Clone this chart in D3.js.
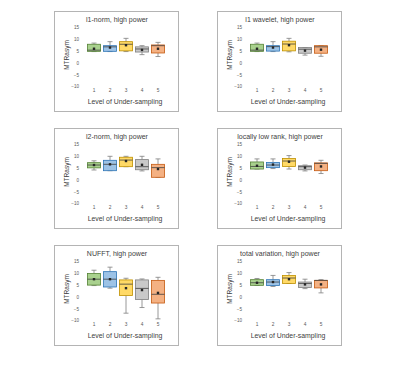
<!DOCTYPE html>
<html>
<head>
<meta charset="utf-8">
<script src="https://cdn.jsdelivr.net/npm/d3@7"></script>
<style>
  body { margin: 0; background: #fff; }
  svg text { font-family: "Liberation Sans", Arial, sans-serif; }
</style>
</head>
<body>
<div id="chart"></div>
<script>
// categories and tick labels
var levels = ["1", "2", "3", "4", "5"];
var yTicks = [15, 10, 5, 0, -5, -10];
var titles = ["l1-norm, high power", "l1 wavelet, high power",
              "l2-norm, high power", "locally low rank, high power",
              "NUFFT, high power", "total variation, high power"];

// each row: [min, q1, median, q3, max, mean] per level of under-sampling
var l1norm = [
  [4.8, 4.9, 5.4, 7.9, 8.4, 6.0],
  [4.8, 4.9, 6.8, 7.3, 9.0, 6.5],
  [4.8, 5.1, 7.9, 9.0, 10.4, 7.5],
  [3.5, 4.6, 5.9, 6.8, 7.3, 5.5],
  [2.7, 4.2, 7.3, 7.6, 8.7, 6.0]
];
var l1wavelet = [
  [4.8, 4.9, 5.4, 7.9, 8.4, 6.0],
  [4.8, 5.0, 6.9, 7.3, 9.0, 6.5],
  [4.7, 5.1, 8.0, 9.2, 10.4, 7.5],
  [3.3, 4.1, 5.8, 6.5, 6.5, 5.2],
  [2.8, 4.1, 6.8, 7.3, 7.3, 5.6]
];
var l2norm = [
  [4.2, 5.1, 6.3, 7.3, 8.1, 6.3],
  [3.9, 3.9, 6.6, 8.3, 10.0, 6.6],
  [5.6, 5.6, 8.4, 9.6, 10.0, 8.0],
  [3.8, 4.3, 5.6, 8.6, 10.0, 6.4],
  [1.1, 1.1, 5.2, 6.6, 8.9, 4.6]
];
var lowRank = [
  [4.6, 4.6, 5.7, 7.6, 8.9, 6.0],
  [4.8, 5.2, 6.3, 7.4, 8.9, 6.5],
  [4.6, 5.7, 8.0, 9.1, 10.3, 7.7],
  [3.8, 4.3, 5.6, 6.0, 6.3, 5.2],
  [2.7, 3.9, 7.0, 7.2, 8.3, 5.7]
];
var nufft = [
  [4.8, 5.0, 7.5, 9.9, 11.3, 7.5],
  [3.7, 4.2, 7.5, 10.7, 12.6, 7.5],
  [-6.9, 0.6, 5.4, 7.2, 7.9, 3.7],
  [-4.5, -1.1, 3.6, 7.2, 7.6, 2.9],
  [-9.3, -2.6, 1.1, 7.0, 8.3, 1.7]
];
var totalVariation = [
  [4.9, 4.9, 6.0, 7.3, 7.8, 6.0],
  [4.4, 4.8, 6.3, 7.3, 9.1, 6.3],
  [5.7, 5.7, 8.0, 9.1, 10.3, 7.5],
  [3.5, 4.0, 5.7, 6.3, 7.5, 5.3],
  [1.7, 3.8, 7.0, 7.0, 7.3, 5.3]
];
var panelData = [l1norm, l1wavelet, l2norm, lowRank, nufft, totalVariation];

var fills   = ["#a9d18e", "#9dc3e6", "#ffd966", "#c9c9c9", "#f4b183"];
var strokes = ["#548235", "#2e75b6", "#bf9000", "#7f7f7f", "#c55a11"];

var w = 400, h = 369;
var panelW = 124, panelH = 100;
var colX = [54, 217];
var rowY = [11, 128, 245];

var svg = d3.select("#chart").append("svg")
  .attr("width", w)
  .attr("height", h);

var xScale = d3.scaleBand()
  .domain(levels)
  .range([32, 112])
  .paddingInner(0.18)
  .paddingOuter(0.09);

var yScale = d3.scaleLinear()
  .domain([-10, 15])
  .range([75.5, 16.5]);

panelData.forEach(function(data, i) {
  var px = colX[i % 2], py = rowY[Math.floor(i / 2)];
  var g = svg.append("g").attr("transform", "translate(" + px + "," + py + ")");

  // frame
  g.append("rect")
    .attr("x", 0.5).attr("y", 0.5)
    .attr("width", panelW).attr("height", panelH)
    .attr("fill", "#fff")
    .attr("stroke", "#b4b4b4")
    .attr("stroke-width", 1);

  // title
  g.append("text")
    .attr("x", panelW / 2 + 1).attr("y", 11)
    .attr("text-anchor", "middle")
    .attr("font-size", "7px")
    .attr("fill", "#404040")
    .text(titles[i]);

  // y axis (labels only)
  var yAxis = d3.axisLeft(yScale).tickValues(yTicks).tickSize(0).tickPadding(0);
  var ya = g.append("g").attr("transform", "translate(25,0)").call(yAxis);
  ya.select(".domain").remove();
  ya.selectAll("text").attr("font-size", "4.6px").attr("fill", "#595959")
    .attr("font-family", "Liberation Sans, Arial, sans-serif");

  // x axis (labels only)
  var xAxis = d3.axisBottom(xScale).tickSize(0).tickPadding(0);
  var xa = g.append("g").attr("transform", "translate(0,78)").call(xAxis);
  xa.select(".domain").remove();
  xa.selectAll("text").attr("font-size", "4.8px").attr("fill", "#595959")
    .attr("font-family", "Liberation Sans, Arial, sans-serif");

  // axis titles
  g.append("text")
    .attr("x", 71).attr("y", 93)
    .attr("text-anchor", "middle")
    .attr("font-size", "6.9px")
    .attr("fill", "#404040")
    .text("Level of Under-sampling");

  g.append("text")
    .attr("transform", "translate(14.5,44) rotate(-90)")
    .attr("text-anchor", "middle")
    .attr("font-size", "6.5px")
    .attr("fill", "#404040")
    .text("MTRasym");

  // boxes
  var bw = xScale.bandwidth();
  var box = g.selectAll(".box")
    .data(data)
    .enter().append("g")
    .attr("class", "box")
    .attr("transform", function(d, j) { return "translate(" + xScale(levels[j]) + ",0)"; });

  // whiskers
  box.append("line")
    .attr("x1", bw / 2).attr("x2", bw / 2)
    .attr("y1", function(d) { return yScale(d[4]); })
    .attr("y2", function(d) { return yScale(d[3]); })
    .attr("stroke", "#7f7f7f").attr("stroke-width", 0.8);
  box.append("line")
    .attr("x1", bw / 2).attr("x2", bw / 2)
    .attr("y1", function(d) { return yScale(d[1]); })
    .attr("y2", function(d) { return yScale(d[0]); })
    .attr("stroke", "#7f7f7f").attr("stroke-width", 0.8);
  [0, 4].forEach(function(k) {
    box.append("line")
      .attr("x1", bw / 2 - 2.5).attr("x2", bw / 2 + 2.5)
      .attr("y1", function(d) { return yScale(d[k]); })
      .attr("y2", function(d) { return yScale(d[k]); })
      .attr("stroke", "#7f7f7f").attr("stroke-width", 0.8);
  });

  // box body
  box.append("rect")
    .attr("x", 0)
    .attr("width", bw)
    .attr("y", function(d) { return yScale(d[3]); })
    .attr("height", function(d) { return yScale(d[1]) - yScale(d[3]); })
    .attr("fill", function(d, j) { return fills[j]; })
    .attr("stroke", function(d, j) { return strokes[j]; })
    .attr("stroke-width", 0.8);

  // median
  box.append("line")
    .attr("x1", 0).attr("x2", bw)
    .attr("y1", function(d) { return yScale(d[2]); })
    .attr("y2", function(d) { return yScale(d[2]); })
    .attr("stroke", "#404040").attr("stroke-width", 0.8);

  // mean marker
  box.append("rect")
    .attr("x", bw / 2 - 1.2).attr("width", 2.4)
    .attr("y", function(d) { return yScale(d[5]) - 1.2; })
    .attr("height", 2.4)
    .attr("fill", "#262626");
});
</script>
</body>
</html>
